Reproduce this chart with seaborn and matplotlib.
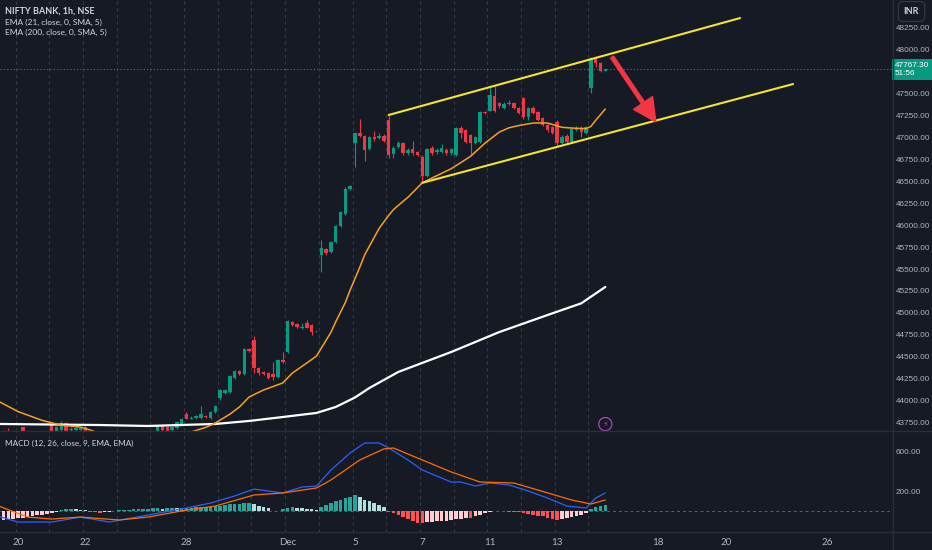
import numpy as np
import pandas as pd
import matplotlib.pyplot as plt
import matplotlib.transforms as mtransforms
from matplotlib.lines import Line2D
import seaborn as sns

# hourly bars, bar 0 = 20 Nov 09:15, 7 bars per session
first_bar = -3
opens = [43640, 43660, 43640,
         43610, 43700, 43635, 43580, 43600, 43590, 43630,
         43727, 43660, 43670, 43750, 43665, 43670, 43675,
         43700, 43620, 43580, 43540, 43560, 43590, 43575,
         43600, 43620, 43610, 43630, 43620, 43640, 43625,
         43645, 43648, 43720, 43700, 43665, 43693, 43727,
         43853, 43800, 43807, 43807, 43830, 43807, 43870,
         44035, 44090, 44102, 44262, 44341, 44307, 44591,
         44693, 44375, 44330, 44318, 44307, 44273, 44466,
         44557, 44898, 44875, 44835, 44886, 44864, 44790,
         45659, 45727, 45693, 45807, 45989, 46125, 46409,
         46932, 47046, 47012, 46864, 47000, 46989, 47012,
         47193, 46807, 46886, 46932, 46818, 46864, 46830,
         46773, 46557, 46875, 46830, 46830, 46852, 46818,
         46796, 47102, 47080, 47023, 46932, 46943, 47284,
         47300, 47466, 47390, 47330, 47370, 47386, 47330,
         47443, 47227, 47330, 47284, 47216, 47136, 47114,
         47170, 46932, 47012, 46943, 47080, 47102, 47046,
         47557, 47898, 47841, 47750]
highs = [43665, 43690, 43660,
         43650, 43710, 43650, 43620, 43640, 43650, 43655,
         43740, 43720, 43770, 43760, 43700, 43705, 43700,
         43720, 43650, 43610, 43580, 43600, 43620, 43610,
         43640, 43650, 43645, 43650, 43650, 43655, 43650,
         43655, 43740, 43735, 43710, 43715, 43775, 43810,
         43870, 43830, 43845, 43940, 43840, 43890, 43950,
         44140, 44135, 44300, 44355, 44350, 44600, 44605,
         44740, 44390, 44345, 44330, 44440, 44480, 44560,
         44925, 44910, 44890, 44890, 44920, 44880, 44810,
         45830, 45740, 45820, 46000, 46160, 46430, 46460,
         47055, 47200, 47025, 47010, 47070, 47040, 47030,
         47250, 46900, 46960, 46945, 46870, 46960, 46840,
         46800, 46880, 46900, 46880, 46920, 46870, 46880,
         47110, 47120, 47090, 47035, 47010, 47300, 47295,
         47568, 47580, 47400, 47400, 47420, 47400, 47340,
         47460, 47340, 47350, 47300, 47230, 47160, 47125,
         47190, 47020, 47030, 47102, 47125, 47120, 47130,
         47909, 47915, 47850, 47775]
lows = [43610, 43630, 43600,
        43570, 43610, 43560, 43540, 43570, 43570, 43600,
        43640, 43640, 43655, 43630, 43650, 43655, 43660,
        43600, 43560, 43520, 43500, 43530, 43560, 43550,
        43570, 43590, 43580, 43600, 43590, 43610, 43600,
        43610, 43630, 43650, 43640, 43650, 43680, 43715,
        43790, 43790, 43800, 43800, 43810, 43800, 43860,
        44010, 44080, 44090, 44250, 44295, 44300, 44560,
        44318, 44290, 44295, 44250, 44240, 44260, 44430,
        44545, 44850, 44830, 44820, 44830, 44750, 44780,
        45466, 45660, 45680, 45795, 45975, 46110, 46400,
        46659, 47000, 46727, 46850, 46960, 46980, 46940,
        46760, 46760, 46875, 46800, 46800, 46800, 46780,
        46480, 46540, 46800, 46810, 46820, 46800, 46800,
        46780, 46990, 46930, 46790, 46920, 46930, 47260,
        47290, 47280, 47330, 47320, 47360, 47320, 47260,
        47200, 47190, 47260, 47180, 47120, 47060, 47030,
        46900, 46920, 46930, 46930, 47070, 47000, 47030,
        47500, 47795, 47740, 47745]
closes = [43625, 43640, 43620,
          43630, 43635, 43580, 43600, 43590, 43630, 43640,
          43660, 43705, 43750, 43650, 43685, 43690, 43690,
          43620, 43580, 43540, 43560, 43590, 43575, 43600,
          43620, 43610, 43630, 43620, 43640, 43625, 43645,
          43640, 43727, 43670, 43660, 43700, 43762, 43795,
          43796, 43810, 43830, 43853, 43820, 43875, 43940,
          44125, 44125, 44284, 44341, 44307, 44591, 44568,
          44375, 44318, 44307, 44262, 44273, 44466, 44443,
          44909, 44864, 44841, 44845, 44830, 44784, 44800,
          45739, 45682, 45807, 45989, 46148, 46409, 46443,
          47046, 47012, 46852, 47000, 46977, 47012, 46955,
          46796, 46875, 46932, 46818, 46852, 46818, 46796,
          46557, 46864, 46818, 46852, 46875, 46818, 46864,
          47102, 47046, 46943, 46932, 47000, 47284, 47272,
          47477, 47295, 47350, 47375, 47390, 47330, 47273,
          47227, 47330, 47273, 47193, 47136, 47080, 47046,
          46932, 47000, 46943, 47091, 47102, 47057, 47114,
          47898, 47841, 47750, 47767.30]
macd_hist = [-95, -90, -85,
             -80, -72, -65, -58, -50, -42, -35,
             -28, -18, 8, 12, 14, 12, 10,
             8, -10, -18, -22, -20, -12, -5,
             5, 8, 10, 12, 15, 18, 20,
             22, 24, 20, 25, 28, 22, 26,
             28, 30, 32, 33, 35, 38, 42,
             48, 55, 62, 68, 70, 75, 78,
             62, 50, 38, 25, -4, -3, 12,
             30, 35, 28, 25, 18, 12, 8,
             40, 55, 75, 95, 110, 125, 138,
             155, 140, 110, 95, 80, 55, 35,
             -10, -30, -48, -65, -85, -105, -125,
             -132, -120, -115, -112, -108, -105, -100,
             -90, -82, -72, -75, -60, -45, -30,
             -18, -8, -3, -6, -10, -15, -20,
             -28, -35, -45, -52, -60, -72, -85,
             -98, -90, -80, -70, -58, -45, -30,
             15, 35, 48, 58]

ema21_bars = [-4, 0, 5, 9, 13, 15, 18, 27, 33, 36, 39, 41, 44, 46, 48, 51, 55, 57, 60, 62, 63,
              65, 66, 68, 69, 71, 72, 74, 75, 77, 78, 80, 81, 84, 86, 90, 94, 97, 100, 102,
              104, 107, 110, 113, 115, 118, 119, 120, 122]
ema21_vals = [43995, 43880, 43780, 43725, 43703, 43670, 43610, 43560, 43600, 43648, 43700,
              43750, 43850, 43932, 44045, 44125, 44205, 44318, 44432, 44511, 44600, 44780,
              44900, 45120, 45262, 45520, 45660, 45860, 45960, 46110, 46175, 46270, 46315,
              46480, 46534, 46640, 46780, 46930, 47057, 47105, 47130, 47159, 47159, 47110,
              47102, 47095, 47120, 47190, 47318]
ema200_bars = [-4, 17, 27, 41, 48, 55, 62, 66, 70, 73, 79, 90, 100, 110, 117, 122]
ema200_vals = [43739, 43727, 43716, 43739, 43773, 43818, 43864, 43932, 44040, 44148, 44330,
               44557, 44784, 44977, 45110, 45296]

macd_bars = [-4, 0, 7, 13, 19, 27, 35, 40, 45, 49, 52, 55, 59, 62, 65, 69, 72, 75, 77, 81, 84,
             90, 92, 95, 98, 102, 106, 110, 114, 118, 120, 122]
macd_vals = [-60, -118, -118, -67, -118, -46, 26, 77, 149, 220, 200, 180, 241, 251, 415, 590,
             692, 692, 641, 518, 415, 292, 292, 251, 282, 262, 200, 128, 46, 26, 128, 180]
signal_bars = [-4, 2, 7, 13, 21, 27, 35, 41, 49, 55, 62, 65, 71, 76, 78, 83, 90, 96, 103, 108,
               115, 119, 122]
signal_vals = [46, -67, -87, -67, -97, -67, 5, 46, 159, 180, 231, 313, 518, 631, 641, 538, 395,
               292, 282, 210, 108, 67, 108]

session_starts = list(range(0, 7 * 18, 7))   # 20 Nov .. 14 Dec
date_ticks = [0, 14, 35, 56, 70, 84, 98, 112, 133, 147, 168]
date_labels = ['20', '22', '28', 'Dec', '5', '7', '11', '13', '18', '20', '26']

# drawn channel and arrow (bar, price)
channel_upper = ([77, 150], [47250, 48352])
channel_lower = ([84, 161], [46480, 47602])
arrow_start = (123.4, 47909)
arrow_end = (132.5, 47171)

BG = '#161A25'
UP = '#089981'
DOWN = '#F23645'
GRID = '#363A45'
TXT = '#D1D4DC'
AXTXT = '#B2B5BE'
NARROW = ['Liberation Sans Narrow', 'Liberation Sans', 'DejaVu Sans']

sns.set_theme(style='dark', rc={'axes.facecolor': BG, 'figure.facecolor': BG,
                                'axes.grid': False})
plt.rcParams['font.family'] = ['Lato', 'DejaVu Sans']

bars = np.arange(first_bar, first_bar + len(closes))
df = pd.DataFrame(dict(bar=bars, open=opens, high=highs, low=lows, close=closes,
                       hist=macd_hist))
rising = df['close'] >= df['open']
candle_col = np.where(rising, UP, DOWN)

fig = plt.figure(figsize=(9.32, 5.5), dpi=100)
W, H = 932, 550
ax = fig.add_axes([0, 119 / H, 893 / W, 431 / H])
axm = fig.add_axes([0, 18 / H, 893 / W, 101 / H])
xlim = (-3.74, 181.76)

# ---- price pane ----
for s in session_starts:
    ax.axvline(s - 0.5, color=GRID, ls=(0, (3, 3)), lw=0.8, zorder=0)
    axm.axvline(s - 0.5, color=GRID, ls=(0, (3, 3)), lw=0.8, zorder=0)

ax.vlines(df['bar'], df['low'], df['high'], colors=candle_col, lw=0.8, zorder=2)
body_lo = np.minimum(df['open'], df['close'])
body_h = np.maximum(np.abs(df['close'] - df['open']), 8)
ax.bar(df['bar'], body_h, bottom=body_lo, width=0.72, color=candle_col, lw=0, zorder=3)

sns.lineplot(x=ema200_bars, y=ema200_vals, ax=ax, color='white', lw=1.6, zorder=4)
sns.lineplot(x=ema21_bars, y=ema21_vals, ax=ax, color='#F7A21B', lw=1.1, zorder=4)

ax.plot(*channel_upper, color='#F5E52A', lw=1.5, zorder=5, solid_capstyle='round')
ax.plot(*channel_lower, color='#F5E52A', lw=1.5, zorder=5, solid_capstyle='round')
ax.annotate('', xy=arrow_end, xytext=arrow_start,
            arrowprops=dict(arrowstyle='simple,head_length=1.65,head_width=1.65,tail_width=0.26',
                            mutation_scale=10, color='#F23645', shrinkA=0, shrinkB=0), zorder=6)

last = closes[-1]
ax.axhline(last, color=UP, ls=(0, (1, 2)), lw=0.8, zorder=1)

ax.set_xlim(*xlim)
ax.set_ylim(43659, 48557)
ax.set_xticks([])
ax.yaxis.tick_right()
pticks = [p for p in range(43750, 48251, 250) if abs(p - last) > 120]
ax.set_yticks(pticks)
ax.set_yticklabels([f'{p:.2f}' for p in pticks], family=NARROW)
ax.tick_params(axis='y', length=0, pad=2, labelsize=5.9, labelcolor=AXTXT)
ax.set_xlabel('')
ax.set_ylabel('')
for sp in ax.spines.values():
    sp.set_visible(False)

blend = mtransforms.blended_transform_factory(ax.transAxes, ax.transData)
ax.text(1.0022, last, f'{last:.2f}\n51:56', transform=blend, ha='left', va='center',
        color='white', fontsize=5.9, family=NARROW, linespacing=1.15, clip_on=False,
        bbox=dict(boxstyle='square,pad=0.35', fc=UP, ec='none'))

ax.text(0.0056, 0.975, 'NIFTY BANK, 1h, NSE', transform=ax.transAxes, color=TXT,
        fontsize=6.5, fontweight='bold', va='center')
ax.text(0.0056, 0.948, 'EMA (21, close, 0, SMA, 5)', transform=ax.transAxes, color=TXT,
        fontsize=6.0, va='center')
ax.text(0.0056, 0.924, 'EMA (200, close, 0, SMA, 5)', transform=ax.transAxes, color=TXT,
        fontsize=6.0, va='center')

iblend = mtransforms.blended_transform_factory(ax.transData, ax.transAxes)
ax.text(bars[-1], 0.016, '\u26a1', transform=iblend, ha='center', va='center',
        color='#AB47BC', fontsize=6, family=['DejaVu Sans'], zorder=7,
        bbox=dict(boxstyle='circle,pad=0.25', fc=BG, ec='#AB47BC', lw=0.9))

# ---- MACD pane ----
hist_prev = df['hist'].shift(1).fillna(df['hist'])
hist_col = np.where(df['hist'] >= 0,
                    np.where(df['hist'] >= hist_prev, '#26A69A', '#B2DFDB'),
                    np.where(df['hist'] >= hist_prev, '#FFCDD2', '#FF5252'))
axm.bar(df['bar'], df['hist'], width=0.75, color=hist_col, lw=0, zorder=2)
axm.axhline(0, color='#5D606B', ls=(0, (3, 3)), lw=0.7, zorder=1)
sns.lineplot(x=macd_bars, y=macd_vals, ax=axm, color='#2962FF', lw=0.9, zorder=3)
sns.lineplot(x=signal_bars, y=signal_vals, ax=axm, color='#FF6D00', lw=0.9, zorder=3)

axm.set_xlim(*xlim)
axm.set_ylim(-220, 815)
axm.yaxis.tick_right()
axm.set_yticks([200, 600])
axm.set_yticklabels(['200.00', '600.00'], family=NARROW)
axm.set_xticks(date_ticks)
axm.set_xticklabels(date_labels)
axm.tick_params(axis='y', length=0, pad=2, labelsize=5.9, labelcolor=AXTXT)
axm.tick_params(axis='x', length=0, pad=4, labelsize=7, labelcolor=AXTXT)
axm.set_xlabel('')
axm.set_ylabel('')
for sp in axm.spines.values():
    sp.set_visible(False)
axm.text(0.0056, 0.88, 'MACD (12, 26, close, 9, EMA, EMA)', transform=axm.transAxes,
         color=TXT, fontsize=5.9, va='center')

# pane borders
for y in (119 / H, 18 / H):
    fig.add_artist(Line2D([0, 1], [y, y], color='#2A2E39', lw=1))
fig.add_artist(Line2D([893 / W, 893 / W], [0, 1], color='#2A2E39', lw=1))
fig.text(911.5 / W, 1 - 11.5 / H, 'INR', ha='center', va='center', color=TXT, fontsize=6.5,
         fontweight='bold',
         bbox=dict(boxstyle='round,pad=0.6,rounding_size=0.5', fc=BG, ec='#363A45', lw=0.8))

fig.savefig('out.png', dpi=100, facecolor=BG)
